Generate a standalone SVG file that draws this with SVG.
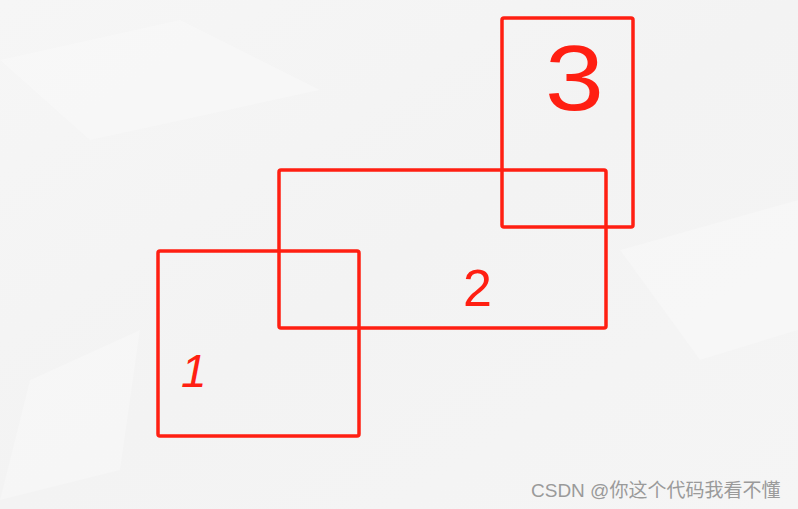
<svg xmlns="http://www.w3.org/2000/svg" width="798" height="509" viewBox="0 0 798 509">
  <defs>
    <linearGradient id="paper" x1="0" y1="0" x2="1" y2="1">
      <stop offset="0" stop-color="#f6f6f6"/>
      <stop offset="0.5" stop-color="#f3f3f3"/>
      <stop offset="1" stop-color="#f5f5f5"/>
    </linearGradient>
  </defs>
  <style>
    .box { fill: none; stroke: #ff1f12; stroke-width: 3.5; stroke-linejoin: round; }
    .num { fill: #ff1f12; font-family: "Liberation Sans", "DejaVu Sans", sans-serif; }
    .wm { fill: #9a9a9a; font-family: "Liberation Sans", "Noto Sans CJK SC", sans-serif; font-size: 19px; }
  </style>
  <rect x="0" y="0" width="798" height="509" fill="url(#paper)"/>
  <g opacity="0.25" fill="#ffffff">
    <polygon points="0,60 180,20 320,90 90,140"/>
    <polygon points="620,250 798,200 798,330 700,360"/>
    <polygon points="30,380 140,330 120,470 0,500"/>
  </g>
  <g id="node-1">
    <rect class="box" x="158" y="251" width="201" height="185" rx="2"/>
    <text class="num" x="181" y="387" font-size="46" font-style="italic">1</text>
  </g>
  <g id="node-2">
    <rect class="box" x="279" y="170" width="327" height="158" rx="2"/>
    <text class="num" x="463" y="306" font-size="52">2</text>
  </g>
  <g id="node-3">
    <rect class="box" x="502" y="18" width="131" height="209" rx="2"/>
    <text class="num" transform="translate(545,110) scale(1.15,1)" font-size="92">3</text>
  </g>
  <g id="connectors"/>
  <text class="wm" x="531" y="497">CSDN @你这个代码我看不懂</text>
</svg>
